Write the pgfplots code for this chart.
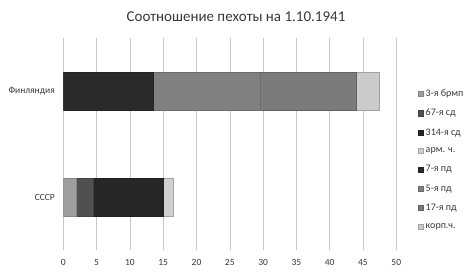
\documentclass[border=0pt]{standalone}
\usepackage{pgfplots}
\pgfplotsset{compat=1.18}
\usepackage{fontspec}
\setmainfont{Carlito}
\definecolor{txt}{HTML}{383838}
\definecolor{cA}{HTML}{9E9E9E}
\definecolor{cB}{HTML}{505050}
\definecolor{cC}{HTML}{262626}
\definecolor{cD}{HTML}{CFCFCF}
\definecolor{cE}{HTML}{2A2A2A}
\definecolor{cF}{HTML}{808080}
\definecolor{cG}{HTML}{7B7B7B}
\definecolor{cH}{HTML}{CBCBCB}
\begin{document}
\begin{tikzpicture}
\useasboundingbox (0,0) rectangle (473pt,274pt);
\node[text=txt, font=\fontsize{15}{17}\selectfont] at (236pt,257pt) {Соотношение пехоты на 1.10.1941};
\begin{axis}[
  at={(63.3pt,24pt)}, anchor=south west,
  scale only axis, width=333pt, height=212pt,
  xbar stacked, bar width=0.36,
  xmin=0, xmax=50, ymin=-0.5, ymax=1.5,
  xtick={0,5,...,50}, ytick={0,1}, yticklabels={СССР,Финляндия},
  major tick length=0,
  xmajorgrids, grid style={draw=black!22, line width=0.5pt},
  axis lines*=left,
  x axis line style={draw=none},
  y axis line style={draw=black!22, line width=0.5pt},
  /pgf/number format/assume math mode=true,
  tick label style={text=txt, font=\fontsize{9.5}{11}\selectfont},
  xticklabel style={yshift=-6pt},
  yticklabel style={xshift=-5pt},
  legend style={draw=none, fill=none, at={(1.065,0.427)}, anchor=west,
    font=\fontsize{10}{12}\selectfont, text=txt, row sep=7.3pt, inner sep=0pt},
  legend cell align=left,
  legend image code/.code={\filldraw[#1] (0pt,-2.6pt) rectangle (5.2pt,2.6pt);},
  every axis plot/.append style={line width=0.4pt},
]
\addplot[fill=cA, draw=cA!85!black] coordinates {(2,0) (0,1)};
\addplot[fill=cB, draw=cB!85!black] coordinates {(2.5,0) (0,1)};
\addplot[fill=cC, draw=cC!85!black] coordinates {(10.5,0) (0,1)};
\addplot[fill=cD, draw=cD!80!black] coordinates {(1.5,0) (0,1)};
\addplot[fill=cE, draw=cE!85!black] coordinates {(0,0) (13.5,1)};
\addplot[fill=cF, draw=cF!85!black] coordinates {(0,0) (16,1)};
\addplot[fill=cG, draw=cG!80!black] coordinates {(0,0) (14.5,1)};
\addplot[fill=cH, draw=cH!80!black] coordinates {(0,0) (3.5,1)};
\legend{3-я брмп,67-я сд,314-я сд,арм. ч.,7-я пд,5-я пд,17-я пд,корп.ч.}
\end{axis}
\end{tikzpicture}
\end{document}
